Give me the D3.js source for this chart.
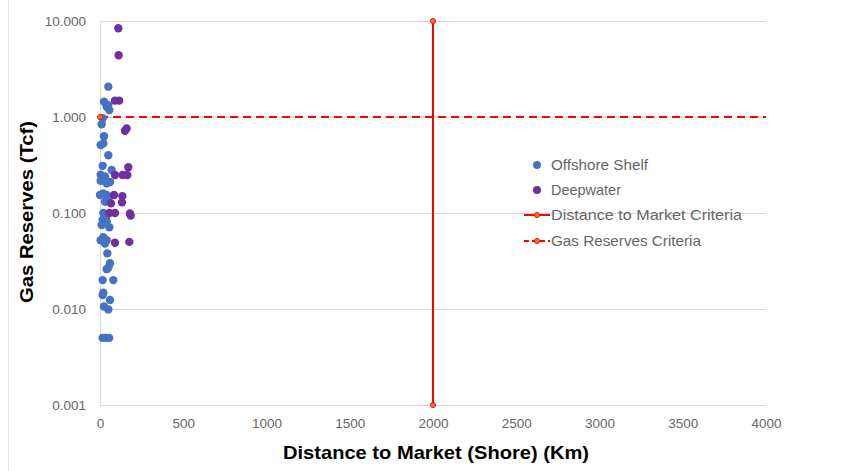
<!DOCTYPE html>
<html>
<head>
<meta charset="utf-8">
<script src="https://cdn.jsdelivr.net/npm/d3@7"></script>
<style>
  html, body { margin: 0; padding: 0; background: #fff; }
  svg { display: block; }
</style>
</head>
<body>
<svg id="chart" width="858" height="471"></svg>
<script>
// ---- Data ----
const shelfKm  = [50, 24, 40, 56, 50, 16, 10, 24, 4, 20, 50, 16, 70, 4, 30, 4, 60, 40, 20, 40, 0, 50, 30, 20, 36, 16, 40, 10, 56, 20, 4, 40, 30, 44, 60, 50, 40, 16, 80, 20, 16, 60, 24, 50, 15, 35, 55];
const shelfTcf = [2.07, 1.44, 1.28, 1.18, 1.33, 0.97, 0.84, 0.63, 0.51, 0.53, 0.40, 0.31, 0.28, 0.25, 0.24, 0.217, 0.21, 0.204, 0.16, 0.154, 0.154, 0.142, 0.131, 0.10, 0.091, 0.085, 0.081, 0.075, 0.071, 0.056, 0.052, 0.052, 0.048, 0.038, 0.030, 0.027, 0.026, 0.020, 0.020, 0.0148, 0.014, 0.0124, 0.0106, 0.0099, 0.005, 0.005, 0.005];
const deepKm  = [110, 112, 90, 115, 150, 160, 170, 90, 136, 164, 84, 134, 132, 66, 56, 90, 180, 184, 90, 176];
const deepTcf = [8.4, 4.4, 1.48, 1.48, 0.72, 0.76, 0.30, 0.249, 0.249, 0.249, 0.154, 0.150, 0.129, 0.126, 0.10, 0.10, 0.099, 0.094, 0.049, 0.050];
const marketKm  = [2000, 2000];
const marketTcf = [0.001, 10];
const reservesKm  = [0, 4000];
const reservesTcf = [1, 1];
const xTicks = [0, 500, 1000, 1500, 2000, 2500, 3000, 3500, 4000];
const yTicks = [10, 1, 0.1, 0.01, 0.001];
const seriesNames = ["Offshore Shelf", "Deepwater", "Distance to Market Criteria", "Gas Reserves Criteria"];

// ---- Layout ----
const svg = d3.select("#chart");
const x = d3.scaleLinear().domain([0, 4000]).range([100, 766]);
const y = d3.scaleLog().domain([0.001, 10]).range([405, 21]);

const blue = "#4472C4", purple = "#7030A0", red = "#FF0000", orange = "#ED7D31";
const textGray = "#666666", gridGray = "#D9D9D9";
const font = "'Liberation Sans', Arial, sans-serif";

// frame line on left
svg.append("line").attr("x1", 8.5).attr("x2", 8.5).attr("y1", 0).attr("y2", 471)
  .attr("stroke", "#E6E6E6").attr("stroke-width", 1);

// gridlines
svg.append("g").selectAll("line").data(yTicks).join("line")
  .attr("x1", x(0)).attr("x2", x(4000))
  .attr("y1", d => Math.round(y(d)) + 0.5).attr("y2", d => Math.round(y(d)) + 0.5)
  .attr("stroke", gridGray).attr("stroke-width", 1);

// y axis
const yAxis = d3.axisLeft(y).tickValues(yTicks).tickFormat(d3.format(".3f")).tickSize(0).tickPadding(14);
const gy = svg.append("g").attr("transform", `translate(${x(0)},0)`).call(yAxis);
gy.select(".domain").attr("stroke", gridGray);
gy.selectAll("text").attr("fill", textGray).style("font-family", font).style("font-size", "13.5px");

// x axis
const xAxis = d3.axisBottom(x).tickValues(xTicks).tickFormat(d3.format("d")).tickSize(0).tickPadding(13);
const gx = svg.append("g").attr("transform", `translate(0,${y(0.001)})`).call(xAxis);
gx.select(".domain").remove();
gx.selectAll("text").attr("fill", textGray).style("font-family", font).style("font-size", "13.5px");

// criteria lines
const line = d3.line().x(d => x(d[0])).y(d => y(d[1]));
const marketPts = marketKm.map((k, i) => [k, marketTcf[i]]);
const reservesPts = reservesKm.map((k, i) => [k, reservesTcf[i]]);

svg.append("path").datum(reservesPts).attr("d", line)
  .attr("fill", "none").attr("stroke", red).attr("stroke-width", 2).attr("stroke-dasharray", "8,5");
svg.append("path").datum(marketPts).attr("d", line)
  .attr("fill", "none").attr("stroke", red).attr("stroke-width", 2);

// scatter points
const shelf = shelfKm.map((k, i) => [k, shelfTcf[i]]);
const deep = deepKm.map((k, i) => [k, deepTcf[i]]);
svg.append("g").selectAll("circle").data(shelf).join("circle")
  .attr("cx", d => x(d[0])).attr("cy", d => y(d[1])).attr("r", 4.2).attr("fill", blue);
svg.append("g").selectAll("circle").data(deep).join("circle")
  .attr("cx", d => x(d[0])).attr("cy", d => y(d[1])).attr("r", 4.2).attr("fill", purple);

// criteria markers
svg.append("g").selectAll("circle").data(marketPts.concat([reservesPts[0]])).join("circle")
  .attr("cx", d => x(d[0])).attr("cy", d => y(d[1])).attr("r", 2.5)
  .attr("fill", orange).attr("stroke", red).attr("stroke-width", 1);

// axis titles
svg.append("text").attr("x", 436).attr("y", 459).attr("text-anchor", "middle")
  .style("font-family", font).style("font-size", "19px").style("font-weight", "bold")
  .attr("textLength", 306).attr("lengthAdjust", "spacingAndGlyphs")
  .attr("fill", "#000").text("Distance to Market (Shore) (Km)");
svg.append("text").attr("transform", "translate(33,212) rotate(-90)").attr("text-anchor", "middle")
  .style("font-family", font).style("font-size", "19px").style("font-weight", "bold")
  .attr("textLength", 182).attr("lengthAdjust", "spacingAndGlyphs")
  .attr("fill", "#000").text("Gas Reserves (Tcf)");

// legend
const legY = [165, 190, 215, 241];
const legW = [97, 70, 191, 150];
const leg = svg.append("g");
seriesNames.forEach((name, i) => {
  const g = leg.append("g").attr("transform", `translate(537,${legY[i]})`);
  if (i === 0 || i === 1) {
    g.append("circle").attr("r", 4).attr("fill", i === 0 ? blue : purple);
  } else {
    g.append("line").attr("x1", -13).attr("x2", 13).attr("y1", 0).attr("y2", 0)
      .attr("stroke", red).attr("stroke-width", 2)
      .attr("stroke-dasharray", i === 3 ? "5,3" : null);
    g.append("circle").attr("r", 2.5).attr("fill", orange).attr("stroke", red).attr("stroke-width", 1);
  }
  g.append("text").attr("x", 14).attr("y", 0).attr("dy", "0.35em")
    .attr("textLength", legW[i]).attr("lengthAdjust", "spacingAndGlyphs")
    .style("font-family", font).style("font-size", "15px").attr("fill", textGray).text(name);
});
</script>
</body>
</html>
